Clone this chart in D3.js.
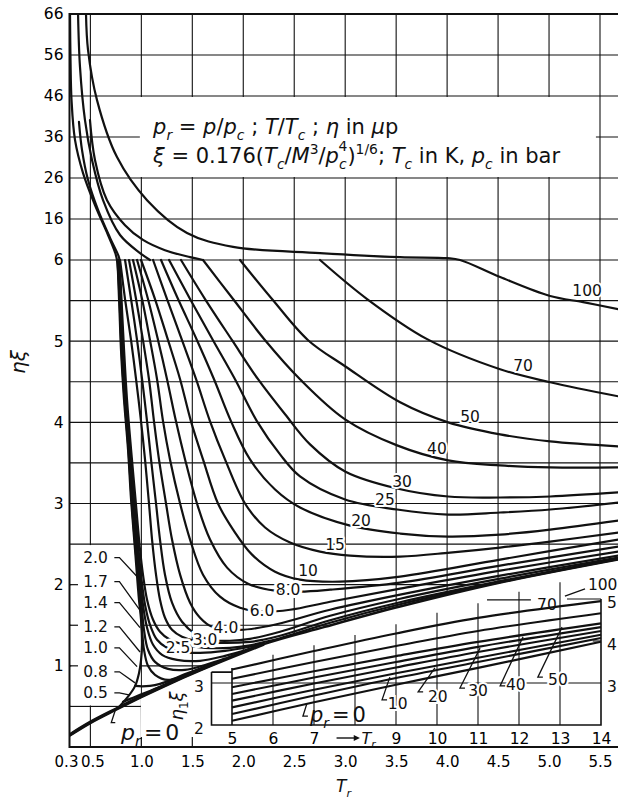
<!DOCTYPE html>
<html>
<head>
<meta charset="utf-8">
<script src="https://cdn.jsdelivr.net/npm/d3@7"></script>
<style>
  html, body { margin: 0; padding: 0; background: #fff; }
  svg { display: block; font-family: "DejaVu Sans", sans-serif; }
</style>
</head>
<body>
<svg id="chart" width="618" height="803"></svg>
<script>
// ---- axis ticks ----
const xTicks = [0.3, 0.5, 1.0, 1.5, 2.0, 2.5, 3.0, 3.5, 4.0, 4.5, 5.0, 5.5];
const xTickLabels = ["0.3", "0.5", "1.0", "1.5", "2.0", "2.5", "3.0", "3.5", "4.0", "4.5", "5.0", "5.5"];
const yTicks = [1, 2, 3, 4, 5, 6, 16, 26, 36, 46, 56, 66];
const gridTr = [0.5, 1.0, 1.5, 2.0, 2.5, 3.0, 3.5, 4.0, 4.5, 5.0, 5.5];
const gridEta = [0.5, 1, 1.5, 2, 2.5, 3, 3.5, 4, 4.5, 5, 5.5, 6, 16, 26, 36, 46, 56];
const insetTicks = [5, 6, 7, 9, 10, 11, 12, 13, 14];
const insetGridTr = [6, 7, 8, 9, 10, 11, 12, 13];
const insetGridTop = [3.67, 3.90, 4.14, 4.40, 4.67, 4.90, 5.17, 5.40];

// ---- curves [Tr, eta*xi] ----
const pr0 = [[0.30,0.15],[0.496,0.30],[0.75,0.465],[0.997,0.62],[1.25,0.77],[1.576,0.95],[2.194,1.265],[2.8,1.48],[3.538,1.73],[4.5,2.02],[5.678,2.31]];
const sat = [[0.30,66],[0.305,54.8],[0.315,45],[0.349,35.3],[0.428,27.2],[0.545,19.4],[0.673,12.1],[0.74,8.0],[0.761,6.0],[0.781,5.52],[0.80,4.90],[0.83,4.28],[0.869,3.67],[0.899,3.05],[0.938,2.43],[0.977,1.81],[0.997,1.57],[1.007,1.26],[0.997,1.07],[0.977,0.91],[0.938,0.75],[0.869,0.62],[0.771,0.48]];
const liqB = [[0.388,39.7],[0.418,32.8],[0.477,25.5],[0.575,18.2],[0.693,11.4],[0.776,7.0],[0.786,6.0]];
const liqC = [[0.379,66],[0.398,53.1],[0.447,40.1],[0.516,30.4],[0.624,20.6],[0.791,12.1],[0.987,7.7],[1.085,6.0]];
const liqD = [[0.496,40.1],[0.545,30.4],[0.663,20.6],[0.84,14.5],[1.016,10.9],[1.232,8.4],[1.478,6.7],[1.605,6.0]];
const pr0_5 = [[0.820,0.556],[0.889,0.593],[0.987,0.642],[1.134,0.716],[1.281,0.790]];
const pr0_8 = [[0.938,0.753],[1.007,0.747],[1.085,0.753],[1.183,0.778],[1.330,0.840],[1.478,0.907]];
const pr1_0 = [[0.766,6.0],[0.786,5.519],[0.805,4.901],[0.835,4.284],[0.874,3.667],[0.904,3.049],[0.943,2.432],[0.972,2.062],[0.992,1.753],[1.007,1.444],[1.026,1.198],[1.065,1.0],[1.134,0.889],[1.262,0.827],[1.429,0.90],[1.625,0.99]];
const pr1_2 = [[0.771,6.0],[0.791,5.519],[0.810,4.901],[0.840,4.284],[0.879,3.667],[0.913,3.049],[0.953,2.432],[0.982,2.062],[1.002,1.753],[1.026,1.444],[1.065,1.198],[1.134,1.049],[1.262,0.963],[1.429,0.95],[1.625,1.01],[1.821,1.089]];
const pr1_4 = [[0.776,6.0],[0.796,5.519],[0.815,4.901],[0.845,4.284],[0.884,3.667],[0.923,3.049],[0.962,2.432],[0.992,2.062],[1.016,1.753],[1.056,1.469],[1.115,1.259],[1.203,1.136],[1.350,1.074],[1.576,1.062],[1.821,1.123],[2.066,1.210]];
const pr1_7 = [[0.781,6.0],[0.800,5.519],[0.820,4.901],[0.850,4.284],[0.889,3.667],[0.928,3.049],[0.972,2.432],[1.002,2.062],[1.036,1.753],[1.085,1.506],[1.154,1.321],[1.252,1.222],[1.380,1.173],[1.576,1.160],[1.821,1.185],[2.066,1.235],[2.194,1.268]];
const pr2_0 = [[0.786,6.0],[0.805,5.519],[0.830,4.901],[0.859,4.284],[0.899,3.667],[0.943,3.049],[0.987,2.432],[1.016,2.123],[1.056,1.815],[1.115,1.568],[1.183,1.420],[1.281,1.321],[1.429,1.259],[1.625,1.222],[1.870,1.222],[2.066,1.253],[2.194,1.290],[2.361,1.340],[2.852,1.531],[3.539,1.759],[4.520,2.031],[5.678,2.315]];
const pr2_5 = [[0.791,6.0],[0.840,5.519],[0.899,5.012],[0.948,4.531],[0.997,4.012],[1.036,3.543],[1.075,3.0],[1.105,2.556],[1.144,2.123],[1.183,1.815],[1.232,1.593],[1.301,1.444],[1.399,1.358],[1.527,1.309],[1.772,1.284],[2.066,1.296],[2.194,1.321],[2.361,1.370],[2.852,1.562],[3.539,1.784],[4.520,2.043],[5.678,2.319]];
const pr3_0 = [[0.840,6.0],[0.899,5.519],[0.958,5.012],[1.007,4.531],[1.056,4.012],[1.095,3.543],[1.144,3.0],[1.183,2.556],[1.232,2.123],[1.301,1.778],[1.399,1.543],[1.527,1.395],[1.674,1.321],[1.870,1.309],[2.066,1.333],[2.361,1.420],[2.852,1.617],[3.539,1.827],[4.520,2.074],[5.678,2.333]];
const pr4_0 = [[0.879,6.0],[0.948,5.519],[1.016,5.012],[1.075,4.531],[1.124,4.012],[1.173,3.543],[1.242,3.0],[1.301,2.556],[1.380,2.123],[1.478,1.778],[1.576,1.593],[1.694,1.481],[1.968,1.444],[2.263,1.494],[2.852,1.691],[3.539,1.877],[4.520,2.111],[5.678,2.358]];
const pr6_0 = [[0.918,6.0],[1.007,5.519],[1.085,5.012],[1.154,4.531],[1.213,4.012],[1.281,3.543],[1.380,3.0],[1.478,2.556],[1.605,2.123],[1.772,1.852],[1.968,1.716],[2.184,1.667],[2.459,1.691],[2.852,1.790],[3.539,1.951],[4.520,2.173],[5.678,2.407]];
const pr8_0 = [[0.958,6.0],[1.065,5.519],[1.164,5.012],[1.252,4.531],[1.340,4.012],[1.429,3.543],[1.546,3.0],[1.674,2.556],[1.841,2.210],[2.047,2.012],[2.312,1.926],[2.557,1.914],[2.852,1.938],[3.539,2.025],[4.520,2.235],[5.678,2.469]];
const pr10 = [[0.997,6.0],[1.134,5.519],[1.262,5.012],[1.380,4.531],[1.487,4.012],[1.605,3.543],[1.752,3.0],[1.900,2.679],[2.086,2.370],[2.312,2.160],[2.557,2.062],[2.950,2.037],[3.539,2.099],[4.520,2.309],[5.678,2.556]];
const pr15 = [[1.115,6.0],[1.252,5.519],[1.399,5.012],[1.537,4.531],[1.674,4.012],[1.821,3.543],[2.017,3.0],[2.214,2.704],[2.459,2.519],[2.753,2.407],[3.048,2.358],[3.539,2.346],[4.029,2.395],[4.520,2.457],[5.011,2.531],[5.678,2.642]];
const pr20 = [[1.193,6.0],[1.360,5.519],[1.546,5.012],[1.713,4.531],[1.880,4.012],[2.066,3.543],[2.312,3.173],[2.557,2.951],[3.048,2.728],[3.539,2.630],[4.010,2.593],[4.520,2.617],[5.011,2.679],[5.678,2.790]];
const pr25 = [[1.272,6.0],[1.478,5.519],[1.703,5.012],[1.919,4.531],[2.135,4.012],[2.361,3.605],[2.557,3.333],[2.999,3.049],[3.509,2.926],[4.010,2.864],[4.520,2.889],[5.011,2.926],[5.678,3.012]];
const pr30 = [[1.389,6.0],[1.625,5.519],[1.890,5.012],[2.145,4.531],[2.410,4.099],[2.655,3.728],[2.999,3.395],[3.509,3.185],[4.010,3.086],[4.520,3.074],[5.011,3.086],[5.678,3.136]];
const pr40 = [[1.605,6.0],[1.900,5.519],[2.214,5.012],[2.557,4.531],[2.999,4.037],[3.509,3.716],[4.010,3.531],[4.520,3.469],[5.011,3.444],[5.678,3.444]];
const pr50 = [[1.968,6.0],[2.282,5.519],[2.636,5.012],[2.999,4.691],[3.539,4.247],[4.010,4.0],[4.520,3.852],[5.011,3.765],[5.678,3.704]];
const pr70 = [[2.753,6.0],[3.215,5.519],[3.804,5.025],[4.520,4.654],[5.011,4.494],[5.678,4.321]];
const pr100 = [[0.457,66],[0.477,57.2],[0.565,45],[0.761,31.1],[1.056,20.6],[1.448,12.6],[1.90,9.2],[2.753,7.7],[3.538,6.7],[4.0,6.45],[4.127,6.0],[4.52,5.79],[5.011,5.556],[5.335,5.481],[5.678,5.395]];

// ---- inset (Tr 5..14, eta1*xi) ----
const ins0 = [[5,2.10],[7,2.54],[9,2.96],[11,3.36],[14,3.98]];
const ins10 = [[5,2.26],[7,2.70],[9,3.12],[11,3.50],[14,4.07]];
const ins20 = [[5,2.42],[7,2.84],[9,3.23],[11,3.60],[14,4.15]];
const ins30 = [[5,2.58],[7,2.99],[9,3.37],[11,3.74],[14,4.24]];
const ins40 = [[5,2.74],[7,3.13],[9,3.50],[11,3.86],[14,4.33]];
const ins50 = [[5,2.90],[7,3.28],[9,3.64],[11,3.98],[14,4.42]];
const ins70 = [[5,3.10],[7,3.50],[9,3.88],[11,4.24],[14,4.66]];
const ins100 = [[5,3.32],[7,3.76],[9,4.18],[11,4.55],[14,4.95]];

// ---- labels ----
const inlineLabels = [
  {t: "2.5", tr: 1.36, e: 1.22, h: 5}, {t: "3.0", tr: 1.625, e: 1.32, h: 6},
  {t: "4.0", tr: 1.83, e: 1.46, h: 6}, {t: "6.0", tr: 2.184, e: 1.68, h: 6},
  {t: "8.0", tr: 2.44, e: 1.93, h: 6}, {t: "10", tr: 2.636, e: 2.17, h: 4},
  {t: "15", tr: 2.9, e: 2.49, h: 4}, {t: "20", tr: 3.156, e: 2.79, h: 4},
  {t: "25", tr: 3.39, e: 3.04, h: 4}, {t: "30", tr: 3.558, e: 3.27, h: 4},
  {t: "40", tr: 3.90, e: 3.67, h: 4}, {t: "50", tr: 4.225, e: 4.07, h: 4},
  {t: "70", tr: 4.745, e: 4.69, h: 4}, {t: "100", tr: 5.374, e: 5.62, h: 4}
];
const legendLabels = [
  {t: "2.0", e: 2.333, tip: [0.987, 2.06]}, {t: "1.7", e: 2.037, tip: [1.007, 1.65]},
  {t: "1.4", e: 1.778, tip: [0.987, 1.47]}, {t: "1.2", e: 1.481, tip: [0.987, 1.17]},
  {t: "1.0", e: 1.222, tip: [0.958, 0.99]}, {t: "0.8", e: 0.926, tip: [0.938, 0.79]},
  {t: "0.5", e: 0.667, tip: [0.889, 0.64]}
];
const insetLabels = [
  {t: "10", tip: [8.85, 3.14], bot: [8.66, 2.60], tx: 8.80, ty: 2.38},
  {t: "20", tip: [9.95, 3.36], bot: [9.54, 2.79], tx: 9.78, ty: 2.55},
  {t: "30", tip: [11.05, 3.83], bot: [10.56, 2.88], tx: 10.76, ty: 2.69},
  {t: "40", tip: [12.10, 4.10], bot: [11.54, 2.93], tx: 11.68, ty: 2.83},
  {t: "50", tip: [13.05, 4.33], bot: [12.46, 3.14], tx: 12.71, ty: 2.95}
];

const svg = d3.select("#chart");
const x = d3.scaleLinear().domain([0.3, 5.5]).range([70, 600]);
const y = d3.scaleLinear().domain([0, 6, 66]).range([747, 260, 14]);
const xi = d3.scaleLinear().domain([5, 14]).range([232, 601]);
const yi = d3.scaleLinear().domain([2, 5]).range([725, 599]);

const line = d3.line().x(d => x(d[0])).y(d => y(d[1])).curve(d3.curveCatmullRom.alpha(0.5));
const lineI = d3.line().x(d => xi(d[0])).y(d => yi(d[1])).curve(d3.curveCatmullRom.alpha(0.5));

function rich(parent, px, py, size, parts) {
  const t = parent.append("text").attr("x", px).attr("y", py).attr("font-size", size);
  let shift = 0;
  parts.forEach(p => {
    const off = p.sub ? size * 0.28 : p.sup ? -size * (p.up || 0.42) : 0;
    const s = t.append("tspan").text(p.t).attr("dy", off - shift);
    if (p.sub || p.sup) s.attr("font-size", size * 0.66);
    if (p.i) s.attr("font-style", "italic");
    if (p.dx) s.attr("dx", p.dx);
    shift = off;
  });
  return t;
}

svg.append("defs").append("clipPath").attr("id", "plot")
  .append("rect").attr("x", x(0.3)).attr("y", y(66)).attr("width", 618 - x(0.3)).attr("height", y(0) - y(66));

// grid
const grid = svg.append("g").attr("stroke", "#111").attr("stroke-width", 1.1);
grid.selectAll(".gv").data(gridTr).enter().append("line")
  .attr("x1", d => x(d)).attr("x2", d => x(d)).attr("y1", y(66)).attr("y2", y(0));
grid.selectAll(".gh").data(gridEta).enter().append("line")
  .attr("x1", x(0.3)).attr("x2", 618).attr("y1", d => y(d)).attr("y2", d => y(d));

// white areas
const mask = svg.append("g").attr("fill", "#fff");
mask.append("rect").attr("x", x(1.0) - 1.5).attr("y", y(46) + 1)
  .attr("width", x(5.46) - x(1.0) + 1.5).attr("height", y(26) - y(46) - 2);
mask.append("rect").attr("x", x(0.3) + 1.2).attr("y", y(2.5) + 1)
  .attr("width", x(1.0) - x(0.3) - 2).attr("height", y(0.5) - y(2.5) - 2);
mask.append("path")
  .attr("d", line(pr0.filter(d => d[0] >= 0.99)) + `L620,${y(0)}L${x(0.99)},${y(0)}Z`);

// inset frame and grid
const inset = svg.append("g").attr("stroke", "#111").attr("fill", "none");
inset.selectAll(".iv").data(insetGridTr).enter().append("line")
  .attr("stroke-width", 1.1)
  .attr("x1", d => xi(d)).attr("x2", d => xi(d)).attr("y1", yi(2)).attr("y2", (d, i) => yi(insetGridTop[i]));
inset.append("line").attr("stroke-width", 1.1)
  .attr("x1", xi(4.5)).attr("x2", xi(14)).attr("y1", yi(3)).attr("y2", yi(3));
inset.append("line").attr("stroke-width", 1.1)
  .attr("x1", xi(13.8)).attr("x2", xi(14)).attr("y1", yi(4)).attr("y2", yi(4));
inset.append("line").attr("stroke-width", 1.1)
  .attr("x1", xi(13.17)).attr("x2", xi(14)).attr("y1", yi(5)).attr("y2", yi(5));
inset.append("path").attr("stroke-width", 1.6)
  .attr("d", `M${xi(4.5)},${yi(3.26)}H${xi(5)}M${xi(4.5)},${yi(3.26)}V${yi(2)}H${xi(14)}V${yi(5)}M${xi(5)},${yi(2)}V${yi(3.36)}`);

// small ticks
const ticks = svg.append("g").attr("stroke", "#111").attr("stroke-width", 1.2);
ticks.selectAll(".tl").data([1, 1.5, 2]).enter().append("line")
  .attr("x1", x(0.3)).attr("x2", x(0.3) + 8).attr("y1", d => y(d)).attr("y2", d => y(d));
ticks.selectAll(".tb").data([1.0, 1.5]).enter().append("line")
  .attr("x1", d => x(d)).attr("x2", d => x(d)).attr("y1", y(0)).attr("y2", y(0) - 10);

// curves
const curves = svg.append("g").attr("clip-path", "url(#plot)")
  .attr("fill", "none").attr("stroke", "#111").attr("stroke-width", 2.2)
  .attr("stroke-linejoin", "round").attr("stroke-linecap", "round");
const mainCurves = [sat, liqB, liqC, liqD, pr0_5, pr0_8, pr1_0, pr1_2, pr1_4, pr1_7, pr2_0, pr2_5,
  pr3_0, pr4_0, pr6_0, pr8_0, pr10, pr15, pr20, pr25, pr30, pr40, pr50, pr70, pr100];
curves.selectAll(".c").data(mainCurves).enter().append("path").attr("d", line);
curves.append("path").attr("d", line(pr0)).attr("stroke-width", 2.5);
curves.append("path").attr("d", line(pr0.filter(d => d[0] <= 2.2))).attr("stroke-width", 3.6);

const icurves = svg.append("g").attr("fill", "none").attr("stroke", "#111").attr("stroke-width", 2.1);
icurves.selectAll(".ic").data([ins0, ins10, ins20, ins30, ins40, ins50, ins70, ins100]).enter()
  .append("path").attr("d", lineI);

// axes frame
svg.append("path").attr("fill", "none").attr("stroke", "#111").attr("stroke-width", 2)
  .attr("d", `M618,${y(66)}H${x(0.3) - 0.5}V${y(0)}H618`);

// tick labels
svg.append("g").attr("transform", `translate(0,${y(0)})`)
  .call(d3.axisBottom(x).tickValues(xTicks).tickFormat((d, i) => xTickLabels[i]).tickSize(0).tickPadding(9))
  .call(g => g.select(".domain").remove())
  .call(g => g.selectAll("text").attr("dx", (d, i) => i === 0 ? -4 : i === 1 ? 2 : 0))
  .attr("font-family", null).attr("font-size", 15);
svg.append("g").attr("transform", `translate(${x(0.3) - 0.5},0)`)
  .call(d3.axisLeft(y).tickValues(yTicks).tickFormat(d3.format("d")).tickSize(0).tickPadding(6))
  .call(g => g.select(".domain").remove())
  .attr("font-family", null).attr("font-size", 15.5);
svg.append("g").attr("transform", `translate(0,${yi(2)})`)
  .call(d3.axisBottom(xi).tickValues(insetTicks).tickFormat(d3.format("d")).tickSize(0).tickPadding(8))
  .call(g => g.select(".domain").remove())
  .attr("font-family", null).attr("font-size", 15.5);

const txt = svg.append("g").attr("fill", "#111");
[5, 4, 3].forEach(v => txt.append("text").attr("x", xi(14) + 11).attr("y", yi(v) + 4)
  .attr("text-anchor", "middle").attr("dominant-baseline", "central").attr("font-size", 15.5).text(v));
[3, 2].forEach(v => txt.append("text").attr("x", 199).attr("y", yi(v) + 4)
  .attr("text-anchor", "middle").attr("dominant-baseline", "central").attr("font-size", 15.5).text(v));

// inline curve labels
txt.selectAll(".il").data(inlineLabels).enter().append("text")
  .attr("x", d => x(d.tr)).attr("y", d => y(d.e))
  .attr("text-anchor", "middle").attr("dominant-baseline", "central").attr("font-size", 15.5)
  .attr("stroke", "#fff").attr("stroke-width", d => d.h).attr("paint-order", "stroke")
  .attr("stroke-linejoin", "round").text(d => d.t);

// legend labels with leaders
const leaders = svg.append("g").attr("fill", "none").attr("stroke", "#111").attr("stroke-width", 1.3);
leaders.selectAll(".ll").data(legendLabels).enter().append("path")
  .attr("d", d => `M${x(0.735)},${y(d.e)}L${x(0.785)},${y(d.e)}L${x(d.tip[0])},${y(d.tip[1])}`);
txt.selectAll(".lg").data(legendLabels).enter().append("text")
  .attr("x", x(0.55)).attr("y", d => y(d.e))
  .attr("text-anchor", "middle").attr("dominant-baseline", "central").attr("font-size", 15.5)
  .text(d => d.t);

// inset labels with hooks
leaders.selectAll(".ih").data(insetLabels).enter().append("path")
  .attr("d", d => `M${xi(d.tip[0])},${yi(d.tip[1])}L${xi(d.bot[0])},${yi(d.bot[1])}l5,0`);
txt.selectAll(".it").data(insetLabels).enter().append("text")
  .attr("x", d => xi(d.tx)).attr("y", d => yi(d.ty)).attr("font-size", 15.5)
  .attr("stroke", "#fff").attr("stroke-width", 4).attr("paint-order", "stroke")
  .text(d => d.t);
leaders.append("path").attr("d", `M${xi(11.22)},${yi(4.98)}H${xi(12.29)}`);
leaders.append("path").attr("d", `M${xi(13.12)},${yi(5.07)}L${xi(13.61)},${yi(5.24)}`);
txt.append("text").attr("x", xi(12.44)).attr("y", yi(4.74)).attr("font-size", 15.5).text("70");
txt.append("text").attr("x", xi(13.68)).attr("y", yi(5.21)).attr("font-size", 15.5).text("100");

// p_r = 0 labels
leaders.append("path").attr("d", `M${xi(6.83)},${yi(2.52)}L${xi(6.73)},${yi(2.21)}l5,0`);
rich(txt, xi(6.90), yi(2.07), 21, [{t: "p", i: 1}, {t: "r", i: 1, sub: 1}, {t: "=", dx: 3}, {t: "0", dx: 3}]);
leaders.append("path").attr("d", `M${x(0.745)},${y(0.455)}L${x(0.705)},${y(0.30)}l4,0`);
rich(txt, x(0.80), y(0.09), 22, [{t: "p", i: 1}, {t: "r", i: 1, sub: 1}, {t: "=", dx: 3}, {t: "0", dx: 3}]);

// eta1 xi label
rich(txt, 0, 0, 18, [{t: "η", i: 1}, {t: "1", sub: 1}, {t: "ξ", i: 1}])
  .attr("text-anchor", "middle").attr("transform", `translate(183,706) rotate(-90)`);

// inset Tr arrow
leaders.append("path").attr("stroke-width", 1.4).attr("d", `M${xi(7.55)},${y(0) - 9}H${xi(8.0)}`);
svg.append("path").attr("fill", "#111")
  .attr("d", `M${xi(7.97)},${y(0) - 12}L${xi(8.12)},${y(0) - 9}L${xi(7.97)},${y(0) - 6}Z`);
rich(txt, xi(8.16), y(0) - 3, 16, [{t: "T", i: 1}, {t: "r", i: 1, sub: 1}]);

// axis titles
rich(txt, 336, 792, 17, [{t: "T", i: 1}, {t: "r", i: 1, sub: 1}]);
txt.append("text").attr("transform", "translate(25,362) rotate(-90)")
  .attr("text-anchor", "middle").attr("font-size", 20).attr("font-style", "italic").text("ηξ");

// formula box text
rich(txt, x(1.115), y(36.73), 21, [
  {t: "p", i: 1}, {t: "r", i: 1, sub: 1}, {t: " = "}, {t: "p", i: 1}, {t: "/"}, {t: "p", i: 1},
  {t: "c", i: 1, sub: 1}, {t: " ; "}, {t: "T", i: 1}, {t: "/"}, {t: "T", i: 1}, {t: "c", i: 1, sub: 1},
  {t: " ; "}, {t: "η", i: 1}, {t: " in "}, {t: "μ", i: 1}, {t: "p"}
]);
rich(txt, x(1.115), y(29.66), 21, [
  {t: "ξ", i: 1}, {t: " = 0.176("}, {t: "T", i: 1}, {t: "c", i: 1, sub: 1}, {t: "/"}, {t: "M", i: 1},
  {t: "3", sup: 1}, {t: "/"}, {t: "p", i: 1}, {t: "c", i: 1, sub: 1}, {t: "4", sup: 1, up: 0.58, dx: -8},
  {t: ")"}, {t: "1/6", sup: 1}, {t: "; "}, {t: "T", i: 1}, {t: "c", i: 1, sub: 1}, {t: " in K, "},
  {t: "p", i: 1}, {t: "c", i: 1, sub: 1}, {t: " in bar"}
]);
</script>
</body>
</html>
